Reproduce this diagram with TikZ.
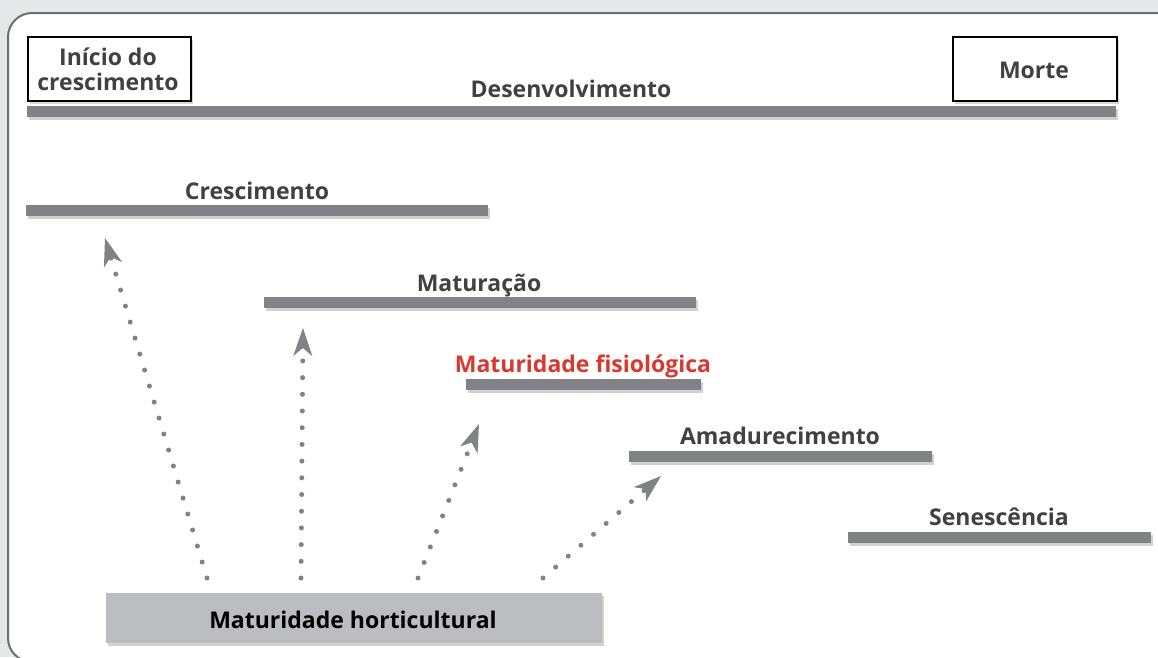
\documentclass[tikz,border=0pt]{standalone}
\usepackage{fontspec}
\setmainfont{Open Sans}
\usetikzlibrary{arrows.meta,shadows,calc}
\definecolor{bgc}{HTML}{E6E7E8}
\definecolor{framec}{HTML}{6D6E71}
\definecolor{barc}{HTML}{808285}
\definecolor{txtc}{HTML}{414042}
\definecolor{redc}{HTML}{D9382F}
\definecolor{hboxc}{HTML}{BCBDC0}
\tikzset{
  bar/.style={fill=barc, draw=none, inner sep=0pt, minimum height=11pt, anchor=north west,
    drop shadow={shadow xshift=2pt, shadow yshift=-3pt, opacity=0.18, fill=black}},
  lbl/.style={font=\fontsize{23}{25}\selectfont\bfseries, text=txtc, anchor=base, inner sep=0pt},
  endbox/.style={draw=black, line width=1.5pt, fill=white, inner sep=0pt, anchor=north west,
    minimum height=64pt, drop shadow={shadow xshift=2pt, shadow yshift=-3pt, opacity=0.15, fill=black}},
  dotline/.style={draw=barc, line width=5pt, line cap=round, dash pattern=on 0pt off 16.7pt,
    -{Stealth[length=28pt 0 0, width=19pt 0 0, inset=8pt 0 0, line width=0pt 0 0]}},
}
\begin{document}
\begin{tikzpicture}[x=1pt,y=-1pt]
\useasboundingbox (0,0) rectangle (1158,657);
\fill[bgc] (0,0) rectangle (1158,657);
\draw[framec, line width=2pt, fill=white, rounded corners=24pt] (8,13) rectangle (1182,662);

% boxes
\node[endbox, minimum width=163pt] (inicio) at (27,36) {};
\node[endbox, minimum width=164pt] (morte) at (952,36) {};
\node[lbl] (inicioA) at (108,65) {Início do};
\node[lbl] (inicioB) at (108,90) {crescimento};
\node[lbl] (morteT) at (1034,78) {Morte};

% bars
\node[bar, minimum width=1089pt] (dbar) at (27,106) {};
\node[lbl] (dlab) at (571,97) {Desenvolvimento};

\node[bar, minimum width=462pt] (cbar) at (26,205) {};
\node[lbl] (clab) at (257,199) {Crescimento};

\node[bar, minimum width=432pt] (mbar) at (264,297) {};
\node[lbl] (mlab) at (479,291) {Maturação};

\node[bar, minimum width=235pt] (fbar) at (466,379) {};
\node[lbl, text=redc] (flab) at (583,372) {Maturidade fisiológica};

\node[bar, minimum width=303pt] (abar) at (629,451) {};
\node[lbl] (alab) at (780,444) {Amadurecimento};

\node[bar, minimum width=303pt] (sbar) at (848,532) {};
\node[lbl] (slab) at (999,525) {Senescência};

% horticultural box
\node[fill=hboxc, inner sep=0pt, anchor=north west, minimum width=496pt, minimum height=50pt,
  drop shadow={shadow xshift=2pt, shadow yshift=-3pt, opacity=0.18, fill=black}] (hbox) at (106,593) {};
\node[lbl, text=black] (hlab) at (353,628) {Maturidade horticultural};

% arrows
\coordinate (a1s) at (207,578); \coordinate (a1t) at (105,238);
\coordinate (a2s) at (301,578); \coordinate (a2t) at (303,328);
\coordinate (a3s) at (418,578); \coordinate (a3t) at (479,424);
\coordinate (a4s) at (543,578); \coordinate (a4t) at (661,476);
\draw[dotline] (a1s) -- (a1t);
\draw[dotline] (a2s) -- (a2t);
\draw[dotline] (a3s) -- (a3t);
\draw[dotline] (a4s) -- (a4t);
\end{tikzpicture}
\end{document}
